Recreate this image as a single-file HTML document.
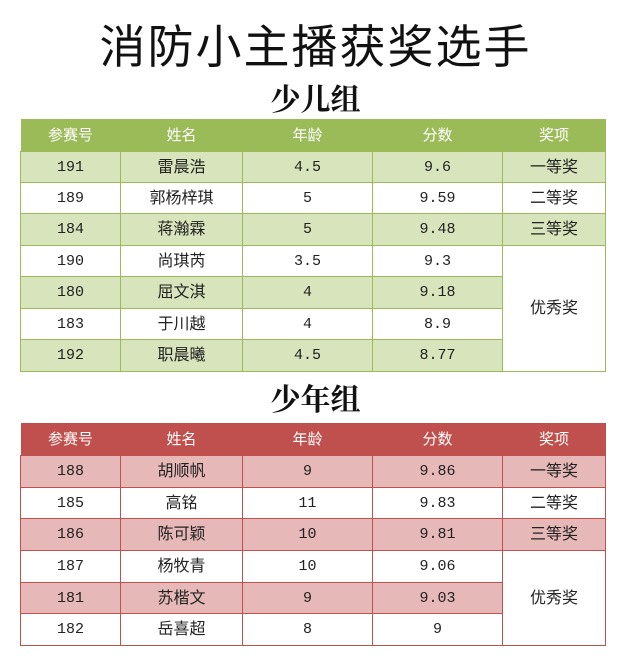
<!DOCTYPE html>
<html><head><meta charset="utf-8"><style>
body{margin:0;width:631px;height:665px;background:#fff;position:relative;overflow:hidden;font-family:"Liberation Serif","Noto Serif CJK SC",serif;}
.t{position:absolute;left:0;width:631px;text-align:center;color:#111;}
table{position:absolute;left:20px;width:585px;border-collapse:collapse;table-layout:fixed;font-family:"Liberation Mono","Noto Sans CJK SC",monospace;font-size:15px;color:#222;}
td{text-align:center;padding:0;border:1px solid;vertical-align:middle;}
td div{height:20px;line-height:20px;position:relative;top:1px;}
td div.n{font-family:"Noto Sans CJK SC",sans-serif;font-size:16px;line-height:20px;top:-2px;}
th{font-weight:normal;color:#fff;font-family:"Noto Sans CJK SC",sans-serif;font-size:15px;padding:0;}
.g td{border-color:#9bbb59;}
.g th{background:#9bbb59;}
.g .a td{background:#d8e4bc;}
.r td{border-color:#c0504d;}
.r th{background:#c0504d;}
.r .a td{background:#e6b8b7;}
</style></head><body>
<div class="t" style="top:14px;font-size:46px;line-height:60px;font-family:'Noto Sans CJK SC',sans-serif;font-weight:normal;letter-spacing:2px">消防小主播获奖选手</div>
<div class="t" style="top:82px;font-size:30px;line-height:38px;font-weight:bold">少儿组</div>
<table class="g" style="top:119px">
<colgroup><col style="width:100px"><col style="width:122px"><col style="width:130px"><col style="width:130px"><col style="width:103px"></colgroup>
<tr style="height:32px"><th>参赛号</th><th>姓名</th><th>年龄</th><th>分数</th><th>奖项</th></tr>
<tr class="a" style="height:31px"><td><div>191</div></td><td><div class="n">雷晨浩</div></td><td><div>4.5</div></td><td><div>9.6</div></td><td><div class="n">一等奖</div></td></tr>
<tr style="height:31px"><td><div>189</div></td><td><div class="n">郭杨梓琪</div></td><td><div>5</div></td><td><div>9.59</div></td><td><div class="n">二等奖</div></td></tr>
<tr class="a" style="height:32px"><td><div>184</div></td><td><div class="n">蒋瀚霖</div></td><td><div>5</div></td><td><div>9.48</div></td><td><div class="n">三等奖</div></td></tr>
<tr style="height:31px"><td><div>190</div></td><td><div class="n">尚琪芮</div></td><td><div>3.5</div></td><td><div>9.3</div></td><td rowspan="4" style="background:#fff"><div class="n">优秀奖</div></td></tr>
<tr class="a" style="height:32px"><td><div>180</div></td><td><div class="n">屈文淇</div></td><td><div>4</div></td><td><div>9.18</div></td></tr>
<tr style="height:31px"><td><div>183</div></td><td><div class="n">于川越</div></td><td><div>4</div></td><td><div>8.9</div></td></tr>
<tr class="a" style="height:32px"><td><div>192</div></td><td><div class="n">职晨曦</div></td><td><div>4.5</div></td><td><div>8.77</div></td></tr>
</table>
<div class="t" style="top:382px;font-size:30px;line-height:38px;font-weight:bold">少年组</div>
<table class="r" style="top:423px">
<colgroup><col style="width:100px"><col style="width:122px"><col style="width:130px"><col style="width:130px"><col style="width:103px"></colgroup>
<tr style="height:32px"><th>参赛号</th><th>姓名</th><th>年龄</th><th>分数</th><th>奖项</th></tr>
<tr class="a" style="height:32px"><td><div>188</div></td><td><div class="n">胡顺帆</div></td><td><div>9</div></td><td><div>9.86</div></td><td><div class="n">一等奖</div></td></tr>
<tr style="height:31px"><td><div>185</div></td><td><div class="n">高铭</div></td><td><div>11</div></td><td><div>9.83</div></td><td><div class="n">二等奖</div></td></tr>
<tr class="a" style="height:32px"><td><div>186</div></td><td><div class="n">陈可颖</div></td><td><div>10</div></td><td><div>9.81</div></td><td><div class="n">三等奖</div></td></tr>
<tr style="height:32px"><td><div>187</div></td><td><div class="n">杨牧青</div></td><td><div>10</div></td><td><div>9.06</div></td><td rowspan="3" style="background:#fff"><div class="n">优秀奖</div></td></tr>
<tr class="a" style="height:31px"><td><div>181</div></td><td><div class="n">苏楷文</div></td><td><div>9</div></td><td><div>9.03</div></td></tr>
<tr style="height:32px"><td><div>182</div></td><td><div class="n">岳喜超</div></td><td><div>8</div></td><td><div>9</div></td></tr>
</table>
</body></html>
